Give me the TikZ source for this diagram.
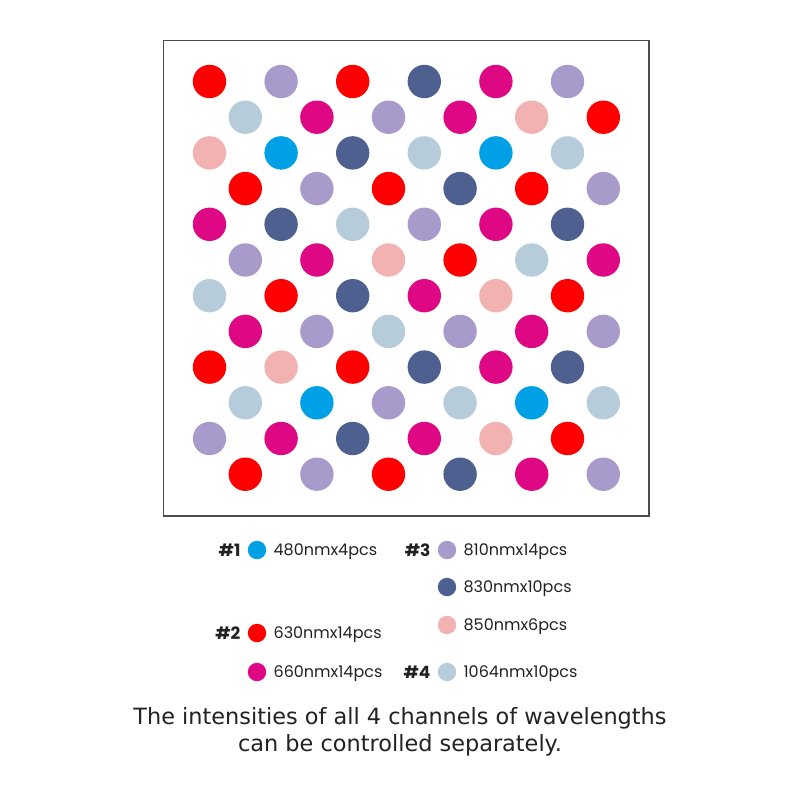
\documentclass[tikz,border=0pt]{standalone}
\usepackage{fontspec}
\setmainfont{DejaVu Sans}
\newfontfamily\legendfont{Poppins}
\usetikzlibrary{positioning}
\definecolor{ledR}{RGB}{255,0,0}
\definecolor{ledM}{RGB}{222,8,133}
\definecolor{ledL}{RGB}{168,155,203}
\definecolor{ledN}{RGB}{77,96,144}
\definecolor{ledP}{RGB}{242,178,178}
\definecolor{ledB}{RGB}{182,204,218}
\definecolor{ledC}{RGB}{0,160,230}
\definecolor{textgray}{RGB}{34,34,34}

\begin{document}
\begin{tikzpicture}[
    x=1pt, y=-1pt,
    led/.style={circle, inner sep=0pt, minimum size=33.4pt},
    dot/.style={circle, inner sep=0pt, minimum size=18.4pt},
    chan/.style={font=\legendfont\bfseries\fontsize{17}{20}\selectfont, text=textgray, inner sep=0pt},
    wave/.style={font=\legendfont\fontsize{16}{19}\selectfont, text=textgray, inner sep=0pt, yshift=-2pt}
]
\useasboundingbox (0,0) rectangle (800,800);

% Frame
\draw[line width=1.3pt, draw=black!70] (163.5,40.5) rectangle (649,516);

% LED array, one list per row
\foreach \row [count=\r from 0] in {
    {R,L,R,N,M,L},{B,M,L,M,P,R},{P,C,N,B,C,B},{R,L,R,N,R,L},
    {M,N,B,L,M,N},{L,M,P,R,B,M},{B,R,N,M,P,R},{M,L,B,L,M,L},
    {R,P,R,N,M,N},{B,C,L,B,C,B},{L,M,N,M,P,R},{R,L,R,N,M,L}} {
  \foreach \c [count=\k from 0] in \row {
    \node[led, fill=led\c] (led-\r-\k) at ({209.5+mod(\r,2)*35.8+\k*71.6}, {81.5+\r*35.7}) {};
  }
}

% Legend
\node[dot, fill=ledC] (c480) at (257,550) {};
\node[dot, fill=ledR] (c630) at (257,633) {};
\node[dot, fill=ledM] (c660) at (257,672) {};
\node[dot, fill=ledL] (c810) at (447,550) {};
\node[dot, fill=ledN] (c830) at (447,587) {};
\node[dot, fill=ledP] (c850) at (447,625) {};
\node[dot, fill=ledB] (c1064) at (447,672) {};

\node[chan, left=7pt of c480] (ch1) {\#1};
\node[chan, left=7pt of c630] (ch2) {\#2};
\node[chan, left=7pt of c810] (ch3) {\#3};
\node[chan, left=7pt of c1064] (ch4) {\#4};

\node[wave, right=7pt of c480] (t480) {480nmx4pcs};
\node[wave, right=7pt of c630] (t630) {630nmx14pcs};
\node[wave, right=7pt of c660] (t660) {660nmx14pcs};
\node[wave, right=7pt of c810] (t810) {810nmx14pcs};
\node[wave, right=7pt of c830] (t830) {830nmx10pcs};
\node[wave, right=7pt of c850] (t850) {850nmx6pcs};
\node[wave, right=7pt of c1064] (t1064) {1064nmx10pcs};

% Caption
\node[align=center, text=textgray, font=\fontsize{22.4}{27}\selectfont] (caption) at (400,731.5)
  {The intensities of all 4 channels of wavelengths\\can be controlled separately.};

\end{tikzpicture}
\end{document}
